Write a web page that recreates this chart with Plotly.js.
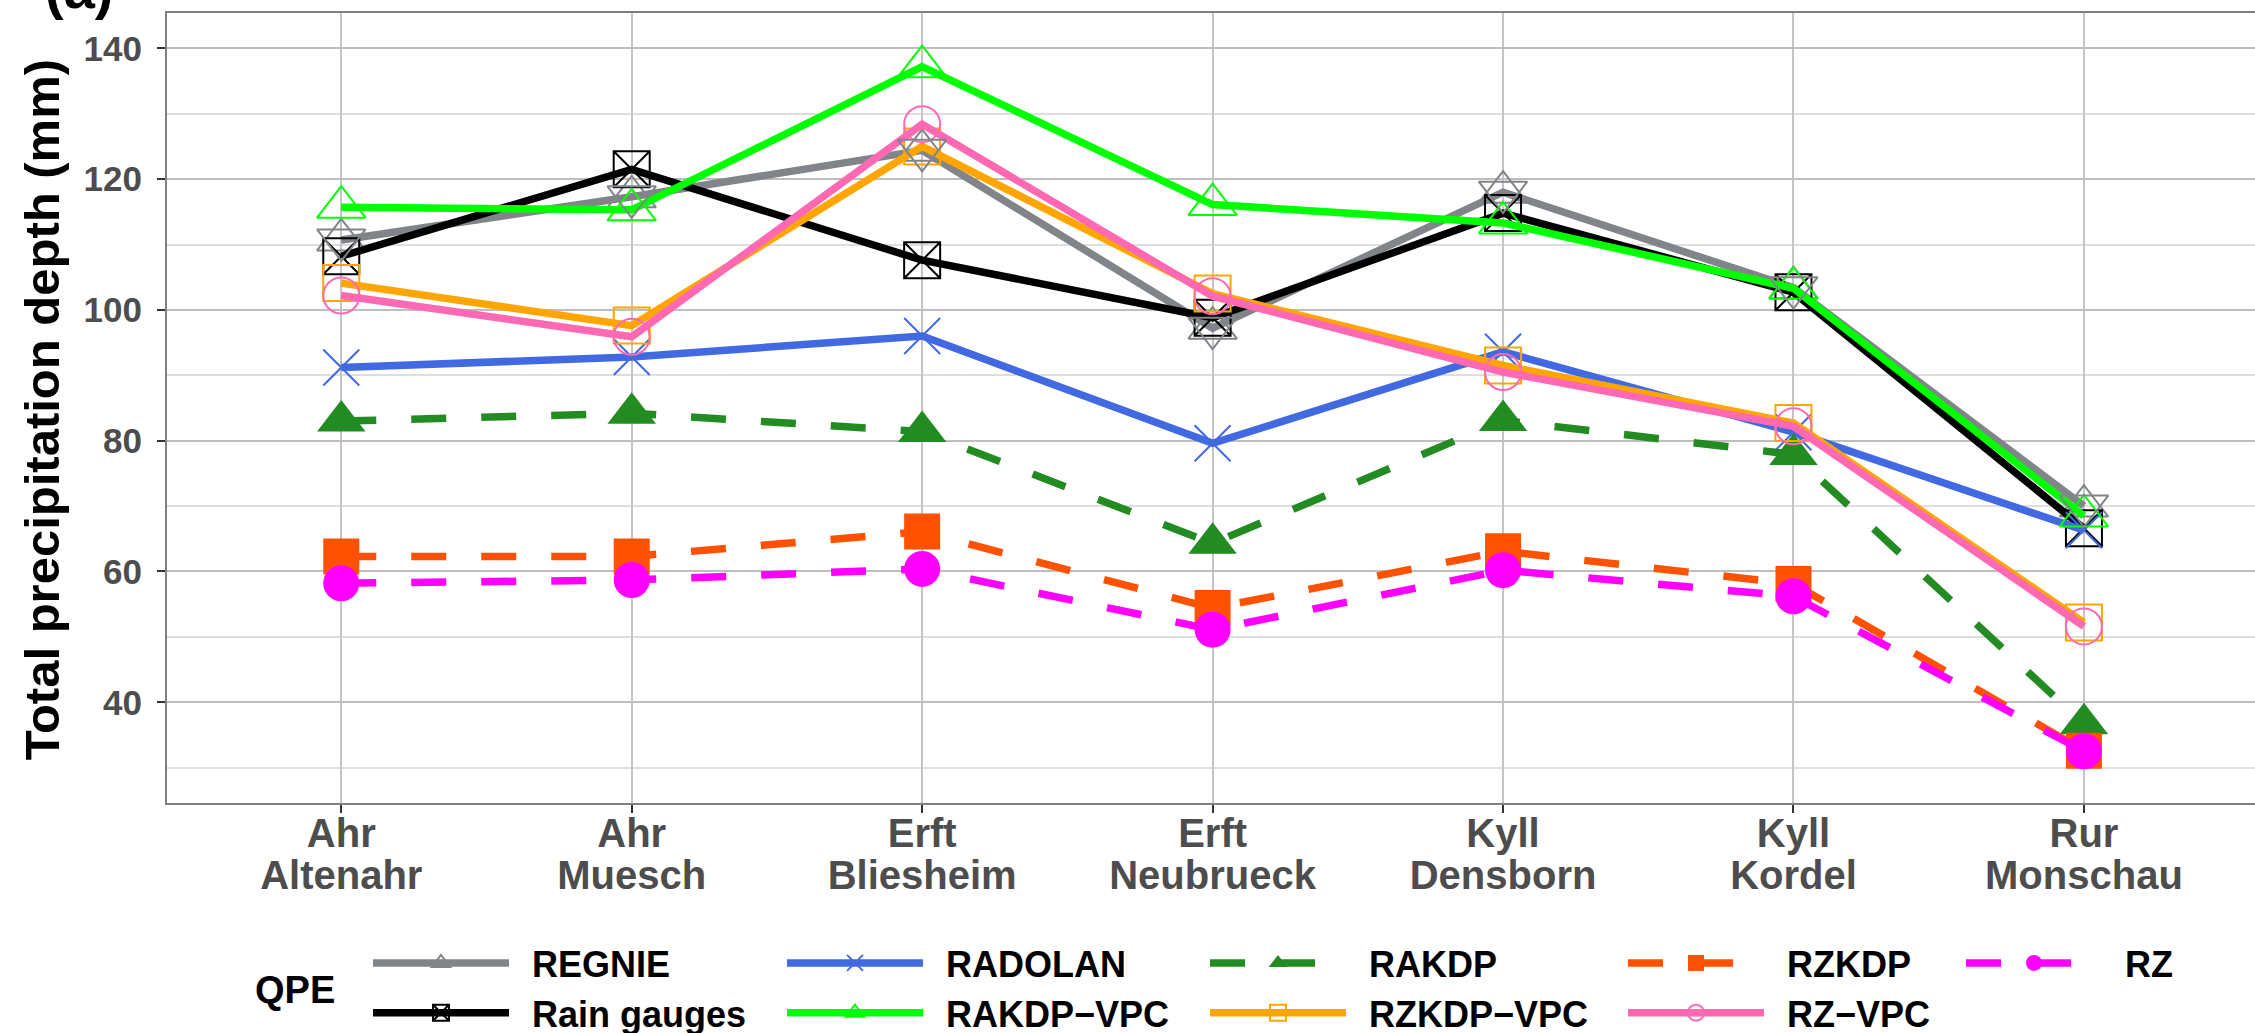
<!DOCTYPE html>
<html>
<head>
<meta charset="utf-8">
<script src="https://cdn.plot.ly/plotly-3.0.1.min.js"></script>
<style>html,body{margin:0;padding:0;background:#fff;}#chart{width:2255px;height:1033px;}</style>
</head>
<body>
<div id="chart"></div>
<script>
// ---- data ----
const rivers   = ["Ahr", "Ahr", "Erft", "Erft", "Kyll", "Kyll", "Rur"];
const stations = ["Altenahr", "Muesch", "Bliesheim", "Neubrueck", "Densborn", "Kordel", "Monschau"];

const regnie     = [110.7, 117.3, 124.4, 97.2, 118.0, 103.4, 70.0];
const rainGauges = [108.2, 121.5, 107.6, 98.8, 114.8, 102.7, 66.6];
const radolan    = [91.2, 92.8, 96.0, 79.6, 93.6, 81.3, 66.3];
const rakdpVpc   = [115.7, 115.3, 137.2, 116.1, 113.3, 103.3, 68.5];
const rakdp      = [83.0, 84.2, 81.4, 64.3, 83.1, 77.9, 36.7];
const rzkdpVpc   = [104.1, 97.6, 125.0, 102.5, 91.5, 82.7, 52.2];
const rzkdp      = [62.3, 62.3, 66.1, 54.4, 63.1, 58.1, 32.6];
const rzVpc      = [102.2, 95.9, 128.4, 102.1, 90.5, 82.2, 51.6];
const rz         = [58.2, 58.7, 60.4, 51.1, 60.2, 56.2, 32.5];

const yTitle = "Total precipitation depth (mm)";
const legendTitle = "QPE";
const panelLabel = "(a)";

// ---- build ----
const idx = stations.map((s, i) => i);   // discrete positions of the gauges
const FONT = "Liberation Sans, Arial, Helvetica, sans-serif";
const LW = 7.5;

function tr(name, y, color, symbol, size, dash, legend, filled) {
  return {
    type: "scatter", mode: "lines+markers", name: "\u2002" + name, x: idx, y: y,
    legend: legend, text: stations, hoverinfo: "name+y+text",
    line: {color: color, width: LW, dash: dash},
    marker: {symbol: symbol, size: size, color: color,
             line: {color: color, width: filled ? 0 : 2}},
    cliponaxis: false
  };
}

const traces = [
  tr("REGNIE", regnie, "#818488", "triangle-up-open", 42, "solid", "legend", false),
  {type: "scatter", mode: "markers", x: idx, y: regnie, showlegend: false, legend: "legend",
   xaxis: "x2", yaxis: "y",
   marker: {symbol: "triangle-down-open", size: 42, color: "#818488", line: {color: "#818488", width: 2}},
   cliponaxis: false, hoverinfo: "skip"},
  tr("Rain gauges", rainGauges, "#000000", "square-x-open", 36, "solid", "legend", false),
  tr("RADOLAN", radolan, "#4169E1", "x-thin-open", 36, "solid", "legend2", false),
  tr("RAKDP\u2212VPC", rakdpVpc, "#00FF00", "triangle-up-open", 42, "solid", "legend2", false),
  tr("RAKDP", rakdp, "#228B22", "triangle-up", 42, "35px,35px", "legend3", true),
  tr("RZKDP\u2212VPC", rzkdpVpc, "#FFA500", "square-open", 36, "solid", "legend3", false),
  tr("RZKDP", rzkdp, "#FF5100", "square", 36, "35px,35px", "legend4", true),
  tr("RZ\u2212VPC", rzVpc, "#FF69B4", "circle-open", 36, "solid", "legend4", false),
  tr("RZ", rz, "#FF00FF", "circle", 36, "35px,35px", "legend5", true)
];

const xTickFont = {family: FONT, size: 40, color: "#4d4d4d", weight: "bold"};
const yTickFont = {family: FONT, size: 35, color: "#4d4d4d", weight: "bold"};
function leg(xpx) {
  return {
    orientation: "v", xref: "container", yref: "container",
    x: xpx / 2255, y: 1 - 933 / 1033, xanchor: "left", yanchor: "top",
    font: {family: FONT, size: 36, color: "#000", weight: "bold"},
    itemwidth: 136, bgcolor: "rgba(0,0,0,0)", borderwidth: 0,
    tracegroupgap: 0, itemclick: false, itemdoubleclick: false
  };
}
const XR = [-0.6, 6.589];

const layout = {
  width: 2255, height: 1033,
  margin: {l: 167, r: 0, t: 13, b: 230, pad: 0, autoexpand: false},
  paper_bgcolor: "#fff", plot_bgcolor: "#fff",
  font: {family: FONT},
  showlegend: true,
  xaxis: {
    range: XR, fixedrange: true,
    tickmode: "array", tickvals: idx, ticktext: rivers,
    showgrid: true, gridcolor: "#c4c4c4", gridwidth: 2,
    ticks: "outside", ticklen: 8, tickwidth: 2, tickcolor: "#333",
    tickfont: xTickFont, tickangle: 0, ticklabelstandoff: -14,
    showline: true, linecolor: "#808080", linewidth: 2, mirror: true,
    zeroline: false, automargin: false
  },
  xaxis2: {
    range: XR, fixedrange: true, overlaying: "x", anchor: "y", side: "bottom",
    tickmode: "array", tickvals: idx, ticktext: stations,
    showgrid: false, ticks: "outside", ticklen: 8, tickcolor: "rgba(0,0,0,0)",
    showline: false, zeroline: false,
    tickfont: xTickFont, tickangle: 0, ticklabelstandoff: 29, automargin: false
  },
  yaxis: {
    range: [24.6, 145.4], tick0: 0, dtick: 20, fixedrange: true,
    showgrid: true, gridcolor: "#bebebe", gridwidth: 2,
    minor: {tick0: 0, dtick: 10, showgrid: true, gridcolor: "#dedede", gridwidth: 2, ticks: ""},
    ticks: "outside", ticklen: 8, tickwidth: 2, tickcolor: "#333",
    tickfont: yTickFont, ticklabelstandoff: 8,
    showline: true, linecolor: "#808080", linewidth: 2, mirror: false,
    zeroline: false, automargin: false
  },
  legend: leg(368),
  legend2: leg(782),
  legend3: leg(1205),
  legend4: leg(1623),
  legend5: leg(1961),
  annotations: [
    {text: yTitle, xref: "paper", yref: "paper", x: (42 - 167) / 2088, y: 0.497,
     xanchor: "center", yanchor: "middle", textangle: -90, showarrow: false,
     font: {family: FONT, size: 49, color: "#000", weight: "bold"}},
    {text: legendTitle, xref: "paper", yref: "paper", x: (295 - 167) / 2088, y: (803 - 990) / 790,
     xanchor: "center", yanchor: "middle", showarrow: false,
     font: {family: FONT, size: 38, color: "#000", weight: "bold"}},
    {text: panelLabel, xref: "paper", yref: "paper", x: (43 - 167) / 2088, y: (803 - 22) / 790,
     xanchor: "left", yanchor: "bottom", showarrow: false,
     font: {family: FONT, size: 56, color: "#000", weight: "bold"}}
  ]
};

Plotly.newPlot("chart", traces, layout, {displayModeBar: false, staticPlot: true});
</script>
</body>
</html>
